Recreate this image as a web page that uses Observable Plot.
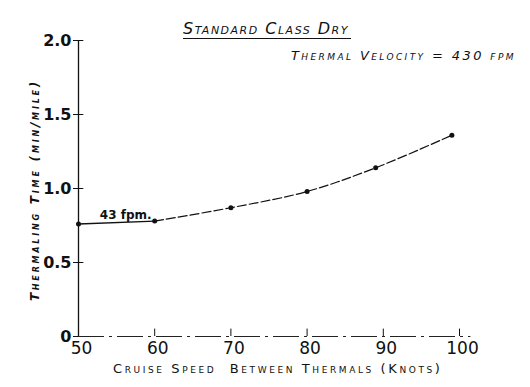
<!DOCTYPE html>
<html><head><meta charset="utf-8">
<script src="https://cdn.jsdelivr.net/npm/d3@7"></script>
<script src="https://cdn.jsdelivr.net/npm/@observablehq/plot@0.6"></script>
<style>
body{margin:0;background:#fff;}
#wrap{position:relative;width:530px;height:387px;font-family:"DejaVu Sans",sans-serif;color:#111;}
.t{position:absolute;white-space:nowrap;font-variant:small-caps;font-style:italic;}
#title{left:183px;top:19px;font-size:16px;letter-spacing:1.5px;border-bottom:1.3px solid #111;line-height:19px;padding-right:2px;}
#sub{left:291px;top:48px;font-size:13px;letter-spacing:2.4px;}
#xl{left:113px;top:361px;font-size:13px;letter-spacing:2.6px;font-style:normal;}
#yl{left:35px;top:190px;font-size:12px;letter-spacing:2.8px;transform:translate(-50%,-50%) rotate(-90deg);font-weight:bold;}
</style></head>
<body><div id="wrap">
<div id="title" class="t">Standard Class Dry</div>
<div id="sub" class="t">Thermal Velocity = 430 fpm</div>
<div id="yl" class="t">Thermaling Time (min/mile)</div>
<div id="xl" class="t">Cruise Speed &nbsp;Between Thermals (Knots)</div>
</div>
<script>
const speeds = [50, 60, 70, 80, 89, 99];
const times = [0.76, 0.78, 0.87, 0.98, 1.14, 1.36];
const xTicks = [50, 60, 70, 80, 90, 100];
const yTicks = [0, 0.5, 1.0, 1.5, 2.0];
const yTickLabels = ["0", "0.5", "1.0", "1.5", "2.0"];
const note = ["43 fpm."];

const pts = speeds.map((s, i) => ({s, t: times[i]}));
const solidPart = pts.slice(0, 2);
const dashedPart = pts.slice(1);

const chart = Plot.plot({
  width: 530, height: 387,
  marginTop: 40, marginBottom: 51, marginLeft: 78, marginRight: 71,
  x: {domain: [50, 100]},
  y: {domain: [0, 2]},
  style: {fontFamily: "DejaVu Sans, sans-serif", color: "#111", background: "white"},
  marks: [
    Plot.axisY(yTicks, {tickSize: 5, tickFormat: (d, i) => yTickLabels[i], fontSize: 16, fontWeight: "bold", tickPadding: 2, label: null}),
    Plot.axisX(xTicks, {tickSize: 0, tickPadding: 5, fontSize: 17, label: null, dx: 3}),
    Plot.ruleY(yTicks.slice(1), {x1: 50, x2: 50.7, stroke: "#111"}),
    Plot.ruleX(xTicks.slice(1), {y1: 0, y2: 0.05, stroke: "#111"}),
    Plot.ruleX([50], {y1: 0, y2: 2, stroke: "#111", strokeWidth: 1.3}),
    Plot.ruleY([0], {x1: 50, x2: 101.5, stroke: "#222", strokeDasharray: "26,5,3,5"}),
    Plot.line(solidPart, {x: "s", y: "t", stroke: "#111", strokeWidth: 1.3}),
    Plot.line(dashedPart, {x: "s", y: "t", curve: "catmull-rom", stroke: "#111", strokeWidth: 1.2, strokeDasharray: "9,3"}),
    Plot.dot(pts, {x: "s", y: "t", r: 2.5, fill: "#111"}),
    Plot.text(note, {x: 56.2, y: 0.82, text: d => d, fontSize: 12, fontWeight: "bold"})
  ]
});
document.getElementById("wrap").prepend(chart);
chart.style.position = "absolute"; chart.style.left = "0"; chart.style.top = "0";
</script>
</body></html>
